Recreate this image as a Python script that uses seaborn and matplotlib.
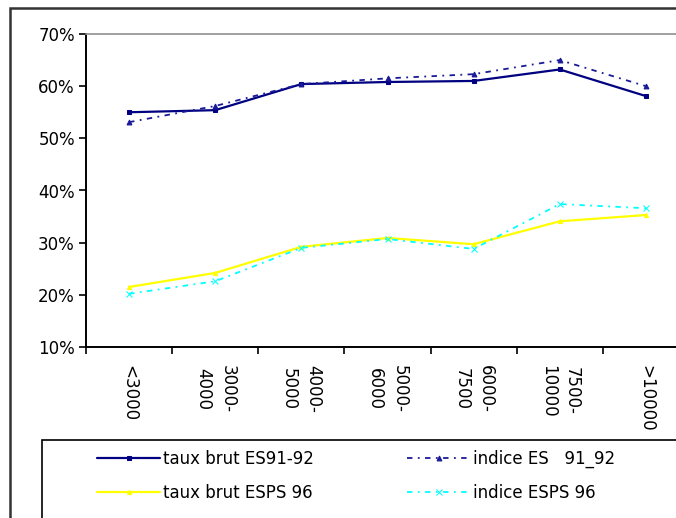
import matplotlib

matplotlib.use("Agg")

import matplotlib.pyplot as plt
import pandas as pd
import seaborn as sns
from matplotlib.patches import Rectangle
from matplotlib.ticker import FixedLocator, FuncFormatter

CATEGORIES = ["<3000", "3000-\n4000", "4000-\n5000", "5000-\n6000",
              "6000-\n7500", "7500-\n10000", ">10000"]
TAUX_ES = [55.0, 55.4, 60.4, 60.8, 61.0, 63.2, 58.1]
INDICE_ES = [53.1, 56.2, 60.4, 61.5, 62.3, 65.0, 60.0]
TAUX_ESPS = [21.5, 24.2, 29.2, 30.9, 29.7, 34.1, 35.3]
INDICE_ESPS = [20.2, 22.6, 29.0, 30.7, 28.8, 37.4, 36.6]
SERIES_NAMES = ["taux brut ES91-92", "indice ES   91_92",
                "taux brut ESPS 96", "indice ESPS 96"]
Y_TICKS = [10, 20, 30, 40, 50, 60, 70]

sns.set_theme(style="white")
plt.rcParams["font.family"] = ["DejaVu Sans"]
plt.rcParams.update({"text.color": "black", "xtick.color": "black", "ytick.color": "black"})

W, H = 676, 518
rows = []
for name, vals in zip(SERIES_NAMES, [TAUX_ES, INDICE_ES, TAUX_ESPS, INDICE_ESPS]):
    for i, v in enumerate(vals):
        rows.append({"series": name, "pos": i, "value": v})
df = pd.DataFrame(rows)

styles = {
    SERIES_NAMES[0]: dict(color="#000080", linestyle="-", linewidth=1.6, marker="s", markersize=3.5),
    SERIES_NAMES[1]: dict(color="#1a1a99", linestyle=(0, (3, 3, 1, 3)), linewidth=1.3, marker="^", markersize=3.5),
    SERIES_NAMES[2]: dict(color="#FFFF00", linestyle="-", linewidth=1.6, marker="^", markersize=3),
    SERIES_NAMES[3]: dict(color="#00FFFF", linestyle=(0, (3, 3, 1, 3)), linewidth=1.3, marker="x", markersize=5),
}

fig = plt.figure(figsize=(W / 100, H / 100), dpi=100)
ax = fig.add_axes([86 / W, 1 - 347 / H, (689 - 86) / W, (347 - 34) / H])

for name in SERIES_NAMES:
    sub = df[df["series"] == name]
    st = styles[name]
    sns.lineplot(data=sub, x="pos", y="value", ax=ax, label=name,
                 markeredgecolor=st["color"], **st)

ax.set_xlim(-0.5, len(CATEGORIES) - 0.5)
ax.set_ylim(10, 70)
ax.set_xlabel("")
ax.set_ylabel("")

ax.xaxis.set_major_locator(FixedLocator(range(len(CATEGORIES))))
ax.set_xticklabels(CATEGORIES, rotation=-90, va="top", ha="center",
                   multialignment="center", linespacing=1.45, fontsize=12)
ax.xaxis.set_minor_locator(FixedLocator([i - 0.5 for i in range(len(CATEGORIES) + 1)]))
ax.tick_params(axis="x", which="major", length=0, pad=13)
ax.tick_params(axis="x", which="minor", length=5, width=1.2, color="black", direction="out", bottom=True)

ax.yaxis.set_major_locator(FixedLocator(Y_TICKS))
ax.yaxis.set_major_formatter(FuncFormatter(lambda v, p: f"{v:.0f}%"))
ax.tick_params(axis="y", length=5, width=1.2, color="black", direction="out", left=True, pad=3, labelsize=12)

for side in ["left", "bottom"]:
    ax.spines[side].set_color("black")
    ax.spines[side].set_linewidth(1.4)
for side in ["top", "right"]:
    ax.spines[side].set_color("#909090")
    ax.spines[side].set_linewidth(1.2)

handles, labels = ax.get_legend_handles_labels()
ax.get_legend().remove()
order = [0, 2, 1, 3]
fig.legend([handles[i] for i in order], [labels[i] for i in order],
           loc="upper left", bbox_to_anchor=(97 / W, 1 - 450 / H),
           ncol=2, frameon=False, borderpad=0, borderaxespad=0,
           handlelength=3.8, handletextpad=0.15, columnspacing=5.6,
           labelspacing=0.95, numpoints=1, fontsize=12)

fig.add_artist(Rectangle((42 / W, -0.1), 1.0, (1 - 440 / H) + 0.1,
                         transform=fig.transFigure, fill=False,
                         edgecolor="black", linewidth=1.2))
fig.add_artist(Rectangle((10 / W, -0.1), 1.0, (1 - 8 / H) + 0.1,
                         transform=fig.transFigure, fill=False,
                         edgecolor="#333333", linewidth=1.8))

fig.savefig("out.png", dpi=100)
